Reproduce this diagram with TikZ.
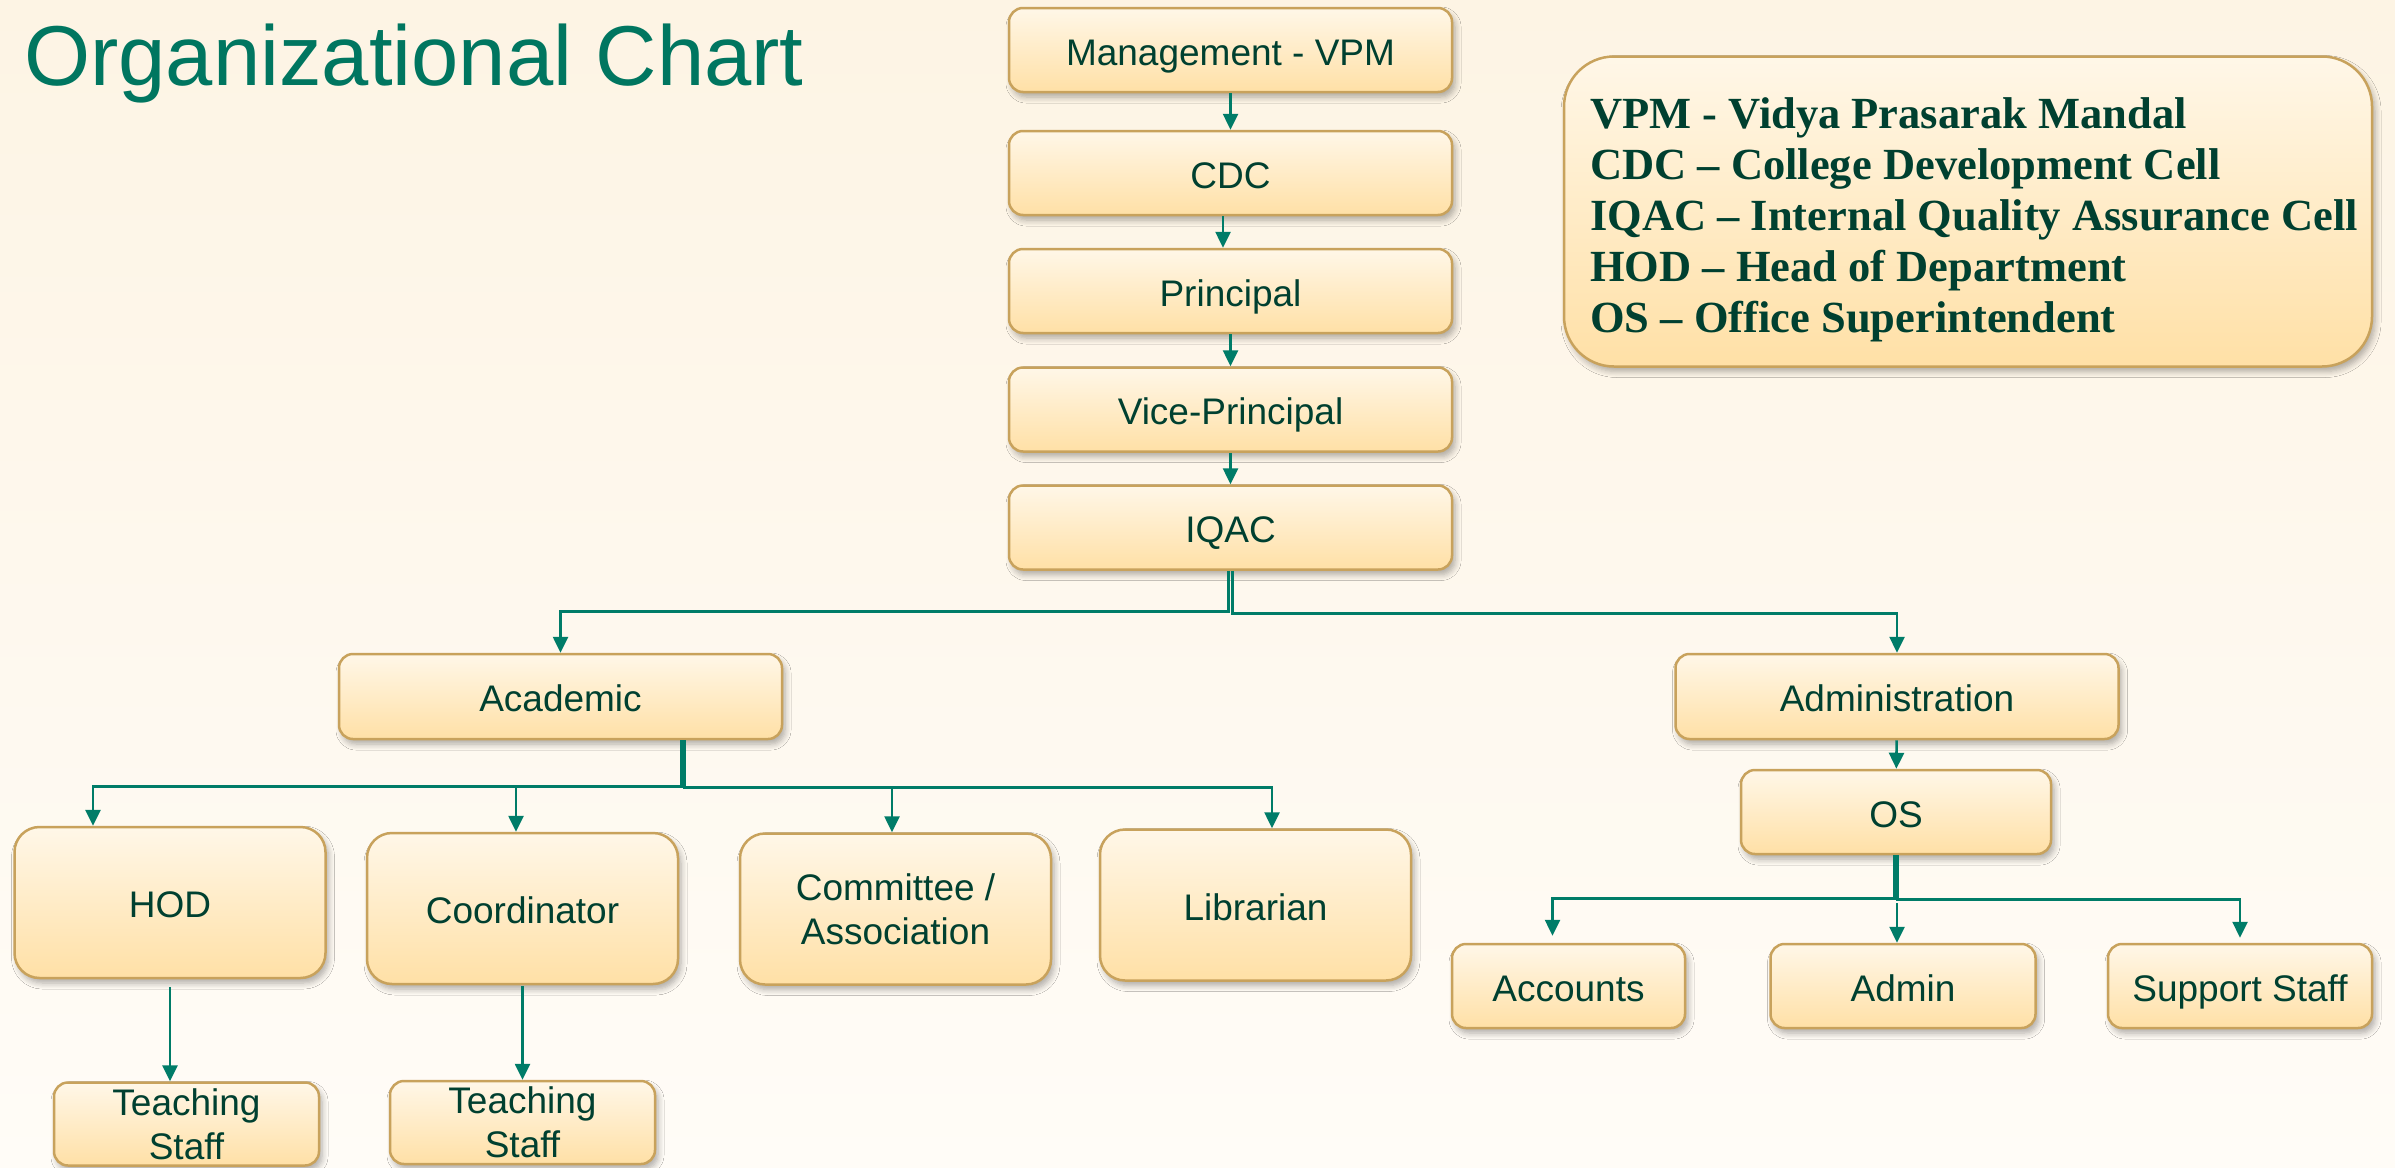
\documentclass[tikz,border=0pt]{standalone}
\usepackage{fontspec}
\setmainfont{Liberation Sans}
\newfontfamily\legfont{Liberation Serif}
\usetikzlibrary{arrows.meta,shadows.blur}
\definecolor{bgtop}{RGB}{253,244,228}
\definecolor{bgbot}{RGB}{255,252,247}
\definecolor{boxtop}{RGB}{255,247,232}
\definecolor{boxbot}{RGB}{255,224,166}
\definecolor{boxline}{RGB}{200,162,92}
\definecolor{txt}{RGB}{0,64,48}
\definecolor{ttl}{RGB}{0,118,96}
\definecolor{conn}{RGB}{0,124,104}
\begin{document}
\begin{tikzpicture}[x=1pt,y=-1pt,
  box/.style={draw=boxline, line width=2.5pt, top color=boxtop, bottom color=boxbot,
    text=txt, font=\fontsize{37}{44}\selectfont, align=center, inner sep=0pt,
    rounded corners=14pt,
    blur shadow={shadow blur steps=6, shadow xshift=3pt, shadow yshift=-5pt, shadow blur radius=6pt, shadow opacity=32}},
  one/.style={box, text height=34pt, text depth=4pt},
  wide/.style={one, minimum width=443pt, minimum height=84pt},
  tall/.style={one, minimum width=311pt, minimum height=151pt, rounded corners=25pt},
  arr/.style={draw=conn, line width=2.6pt, -{Triangle[length=16pt,width=15pt]}},
  leg/.style={anchor=base west, inner sep=0pt, text=txt, font=\legfont\bfseries\fontsize{44.5}{50}\selectfont},
]
\useasboundingbox (0,0) rectangle (2395,1167);
\fill[top color=bgtop, bottom color=bgbot] (0,0) rectangle (2395,1167);

% title
\node[anchor=base west, inner sep=0pt, text=ttl, font=\fontsize{85}{100}\selectfont] (title) at (24,85) {Organizational Chart};

% legend
\node[box, minimum width=808pt, minimum height=310pt, rounded corners=50pt] (legend) at (1968,211.5) {};
\node[leg] (lg1) at (1590,128) {VPM - Vidya Prasarak Mandal};
\node[leg] (lg2) at (1590,179) {CDC – College Development Cell};
\node[leg] (lg3) at (1590,230) {IQAC – Internal Quality Assurance Cell};
\node[leg] (lg4) at (1590,281) {HOD – Head of Department};
\node[leg] (lg5) at (1590,332) {OS – Office Superintendent};

% main stack
\node[wide] (mgmt) at (1230.5,50) {Management - VPM};
\node[wide] (cdc) at (1230.5,173) {CDC};
\node[wide] (principal) at (1230.5,291) {Principal};
\node[wide] (vice) at (1230.5,409.5) {Vice-Principal};
\node[wide] (iqac) at (1230.5,527.5) {IQAC};

\node[wide, minimum height=85pt] (academic) at (560.5,696.5) {Academic};
\node[wide, minimum height=85pt] (administration) at (1897,696.5) {Administration};

\node[tall] (hod) at (170,902.5) {HOD};
\node[tall] (coord) at (522.5,908.5) {Coordinator};
\node[box, minimum width=311pt, minimum height=151pt, rounded corners=25pt] (comm) at (895.5,909) {Committee /\\Association};
\node[tall] (lib) at (1255.5,905) {Librarian};

\node[box, minimum width=265pt, minimum height=83pt] (ts1) at (186.5,1124) {Teaching\\Staff};
\node[box, minimum width=265pt, minimum height=83pt] (ts2) at (522.5,1122.5) {Teaching\\Staff};

\node[one, minimum width=310pt, minimum height=84pt] (os) at (1896,812) {OS};
\node[one, minimum width=233pt, minimum height=84pt] (accounts) at (1568.5,986) {Accounts};
\node[one, minimum width=265pt, minimum height=84pt] (admin) at (1903,986) {Admin};
\node[one, minimum width=264pt, minimum height=84pt] (support) at (2240,986) {Support Staff};

% connectors
\draw[arr] (mgmt) -- (cdc);
\coordinate (cdcout) at ([xshift=-7.5pt]cdc.south);
\coordinate (prin) at ([xshift=-7.5pt]principal.north);
\draw[arr] (cdcout) -- (prin);
\draw[arr] (principal) -- (vice);
\draw[arr] (vice) -- (iqac);

\coordinate (iqL) at ([xshift=-2pt]iqac.south);
\coordinate (iqR) at ([xshift=2pt]iqac.south);
\draw[arr] (iqL) -- ++(0,41) -| (academic.north);
\draw[arr] (iqR) -- ++(0,43) -| (administration.north);

\coordinate (acL) at ([xshift=121pt]academic.south);
\coordinate (acR) at ([xshift=124pt]academic.south);
\coordinate (hodin) at ([xshift=-77pt]hod.north);
\coordinate (libin) at ([xshift=16.5pt]lib.north);
\draw[arr] (acL) -- ++(0,46) -| (hodin);
\draw[arr] (acR) -- ++(0,47) -| (libin);
\coordinate (acbus) at ([yshift=-48pt]academic.south);
\coordinate (coordin) at ([xshift=-6.5pt]coord.north);
\coordinate (commin) at ([xshift=-3.5pt]comm.north);
\draw[arr] (coordin |- acbus) -- (coordin);
\draw[arr] (commin |- acbus) -- (commin);

\coordinate (hodout) at ([yshift=-8pt]hod.south);
\draw[arr] (hodout) -- (hod.south |- ts1.north);
\coordinate (coordout) at ([yshift=-1pt]coord.south);
\draw[arr] (coordout) -- (ts2.north);

\draw[arr] (administration) -- (os);
\coordinate (osL) at ([xshift=-1.5pt]os.south);
\coordinate (osR) at ([xshift=1.5pt]os.south);
\coordinate (accin) at ([xshift=-16pt]accounts.north);
\draw[arr, shorten >=7pt] (osL) -- ++(0,43) -| (accin);
\draw[arr, shorten >=5pt] (osR) -- ++(0,44) -| (support.north);
\coordinate (osbus) at ([yshift=-48pt]os.south);
\coordinate (adin) at ([xshift=-6pt]admin.north);
\draw[arr] (adin |- osbus) -- (adin);
\end{tikzpicture}
\end{document}
